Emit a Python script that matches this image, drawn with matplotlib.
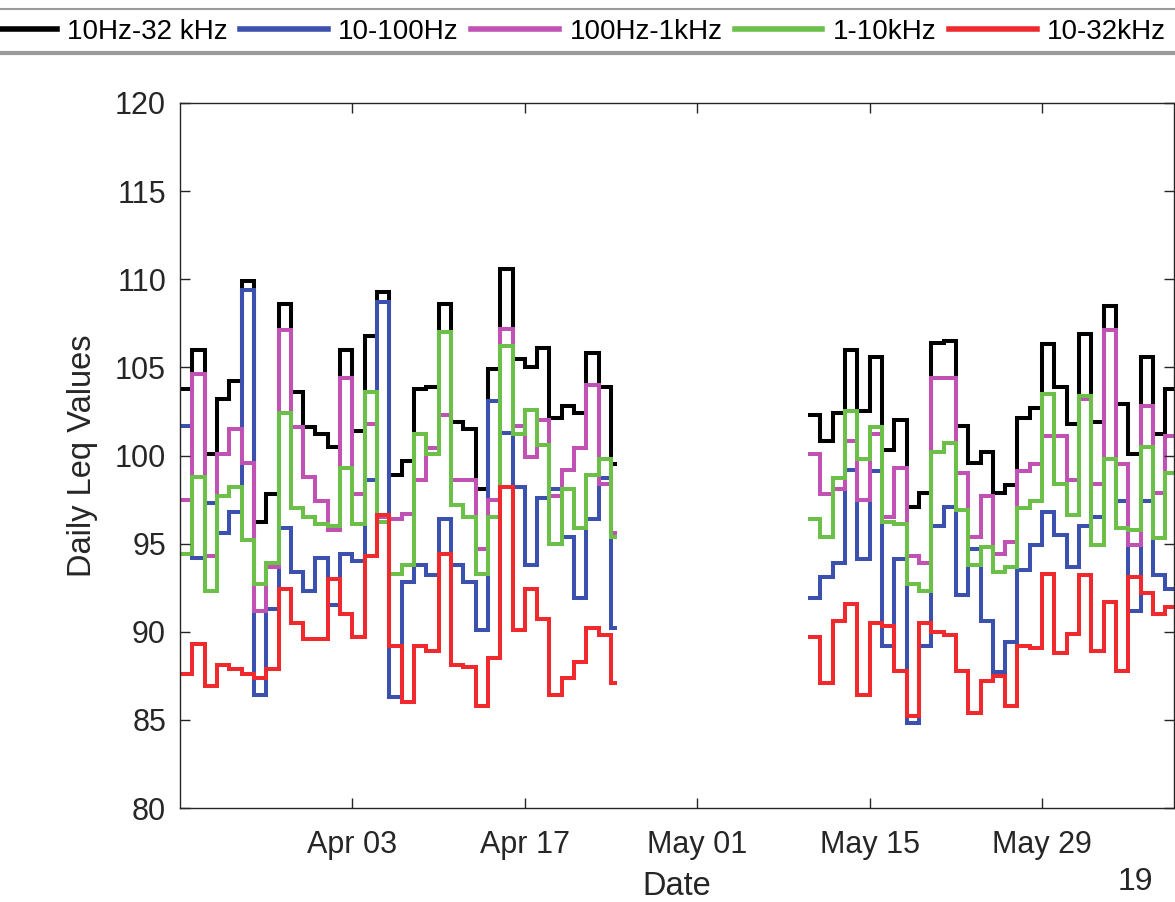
import datetime as dt

import matplotlib
matplotlib.use("Agg")
import matplotlib.pyplot as plt
import matplotlib.dates as mdates
from matplotlib.lines import Line2D
import numpy as np

plt.rcParams['font.family'] = ['Liberation Sans', 'DejaVu Sans']

# record periods (daily values)
start1 = dt.datetime(2019, 3, 20)
end1 = dt.datetime(2019, 4, 24, 12)
start2 = dt.datetime(2019, 5, 10)

series_labels = ['10Hz-32 kHz', '10-100Hz', '100Hz-1kHz', '1-10kHz', '10-32kHz']
series_colors = ['#000000', '#3c50ad', '#c052b3', '#6cc04a', '#ef2a2e']

# period 1 : Mar 20 - Apr 24
broad_1 = [103.75, 106.0, 100.1, 103.2, 104.2, 109.9, 96.2, 97.8, 108.6, 103.6,
           101.6, 101.2, 100.5, 106.0, 101.4, 106.8, 109.3, 98.9, 99.7, 103.8,
           103.9, 108.6, 101.9, 101.5, 98.1, 104.9, 110.6, 105.5, 105.0, 106.1,
           102.1, 102.8, 102.4, 105.8, 103.9, 99.5]
low_1 = [101.7, 94.2, 97.3, 95.6, 96.8, 109.4, 86.4, 91.3, 95.9, 93.4,
         92.3, 94.2, 91.5, 94.4, 94.0, 98.6, 108.7, 86.3, 92.8, 93.8,
         93.2, 96.4, 93.8, 92.8, 90.1, 103.1, 101.3, 98.2, 93.8, 97.6,
         98.1, 95.4, 91.9, 96.4, 98.7, 90.2]
mid_1 = [97.5, 104.6, 94.3, 100.1, 101.5, 99.6, 91.2, 93.7, 107.1, 101.6,
         98.8, 97.4, 95.8, 104.4, 97.8, 101.8, 96.5, 96.4, 96.7, 98.6,
         100.4, 102.3, 98.6, 98.6, 94.7, 97.5, 107.2, 101.7, 99.9, 102.0,
         97.7, 99.2, 100.4, 104.0, 98.4, 95.6]
high_1 = [94.4, 98.8, 92.3, 97.7, 98.2, 95.2, 92.7, 93.9, 102.4, 97.0,
          96.5, 96.1, 96.0, 99.3, 96.1, 103.6, 96.2, 93.3, 93.8, 101.2,
          100.1, 107.0, 97.2, 96.5, 93.3, 96.5, 106.2, 101.2, 102.6, 100.6,
          95.0, 98.1, 95.9, 98.9, 99.8, 95.4]
ultra_1 = [87.6, 89.3, 86.9, 88.1, 87.9, 87.6, 87.4, 87.9, 92.4, 90.5,
           89.6, 89.6, 93.0, 91.0, 89.7, 94.3, 96.6, 89.2, 86.0, 89.2,
           88.9, 94.4, 88.1, 88.0, 85.8, 88.5, 98.2, 90.1, 92.4, 90.7,
           86.4, 87.4, 88.3, 90.2, 89.8, 87.1]

# period 2 : May 10 - Jun 08
broad_2 = [102.3, 100.8, 102.4, 106.0, 102.5, 105.6, 100.3, 102.0, 97.1, 97.9,
           106.4, 106.5, 101.7, 99.6, 100.2, 97.9, 98.3, 102.1, 102.7, 106.3,
           103.9, 101.8, 106.9, 101.9, 108.5, 102.9, 100.1, 105.6, 101.2, 103.8]
low_2 = [91.9, 93.1, 93.9, 99.2, 94.1, 99.1, 89.2, 94.1, 84.8, 89.2,
         96.0, 97.1, 92.1, 94.7, 90.6, 87.7, 89.4, 93.5, 94.9, 96.8,
         95.5, 93.7, 96.0, 96.5, 99.8, 97.4, 91.2, 97.4, 93.2, 92.4]
mid_2 = [100.1, 97.8, 98.1, 100.8, 97.5, 101.2, 96.5, 99.3, 94.3, 93.9,
         104.4, 104.4, 99.0, 95.4, 97.7, 94.4, 95.1, 99.1, 99.5, 101.1,
         101.1, 98.6, 103.2, 98.4, 107.1, 99.5, 94.9, 102.8, 97.9, 101.1]
high_2 = [96.4, 95.4, 98.7, 102.5, 99.8, 101.6, 96.2, 96.1, 92.7, 92.3,
          100.2, 100.7, 96.9, 93.8, 94.8, 93.4, 93.7, 97.0, 97.4, 103.5,
          98.4, 96.6, 103.4, 94.9, 99.8, 95.9, 95.8, 100.5, 95.3, 99.0]
ultra_2 = [89.7, 87.1, 90.6, 91.6, 86.4, 90.5, 90.3, 87.8, 85.2, 90.5,
           90.0, 89.8, 87.8, 85.4, 87.2, 87.5, 85.8, 89.2, 89.1, 93.3,
           88.8, 89.9, 93.2, 88.9, 91.7, 87.8, 93.1, 92.2, 91.0, 91.4]

xticks = [dt.datetime(2019, 4, 3), dt.datetime(2019, 4, 17), dt.datetime(2019, 5, 1),
          dt.datetime(2019, 5, 15), dt.datetime(2019, 5, 29)]
yticks = np.arange(80, 121, 5)


def day_edges(start, n, end=None):
    t0 = mdates.date2num(start)
    edges = t0 + np.arange(n + 1)
    if end is not None:
        edges[-1] = mdates.date2num(end)
    return edges


def main():
    fig = plt.figure(figsize=(11.75, 9.02), dpi=100)
    ax = fig.add_axes([180 / 1175, 1 - 808 / 902, (1174 - 180) / 1175, (808 - 103) / 902])

    period1 = [broad_1, low_1, mid_1, high_1, ultra_1]
    period2 = [broad_2, low_2, mid_2, high_2, ultra_2]
    e1 = day_edges(start1, len(broad_1), end1)
    e2 = day_edges(start2, len(broad_2))

    handles = []
    for v1, v2, col, lab in zip(period1, period2, series_colors, series_labels):
        ax.stairs(v1, e1, baseline=None, color=col, lw=2.9)
        ax.stairs(v2, e2, baseline=None, color=col, lw=2.9)
        handles.append(Line2D([], [], color=col, lw=4))

    ax.set_xlim(mdates.date2num(start1), mdates.date2num(dt.datetime(2019, 6, 8, 17)))
    ax.set_ylim(80, 120)
    ax.set_xticks(xticks)
    ax.xaxis.set_major_formatter(mdates.DateFormatter('%b %d'))
    ax.set_yticks(yticks)
    ax.tick_params(direction='in', length=7, width=1, top=True, right=True,
                   labelsize=22, colors='#262626')
    ax.tick_params(axis='x', pad=16)
    ax.tick_params(axis='y', pad=10)
    for s in ax.spines.values():
        s.set_color('#262626')
        s.set_linewidth(1)

    ax.set_xlabel('Date', fontsize=23.5, color='#262626', labelpad=8)
    ax.set_ylabel('Daily Leq Values', fontsize=23.5, color='#262626', labelpad=12)
    fig.text(1135 / 1175, 1 - 882 / 902, '19', fontsize=23, color='#262626',
             ha='center', va='center')

    # legend strip on top
    fig.legend(handles, series_labels, ncol=5, frameon=False, fontsize=20,
               loc='center left', bbox_to_anchor=(-31 / 1175, 1 - 32 / 902),
               borderpad=0, borderaxespad=0, handlelength=3.15,
               handletextpad=0.38, columnspacing=0.45)
    fig.add_artist(Line2D([0, 1], [1 - 9 / 902] * 2, color='#9a9a9a', lw=1.5))
    fig.add_artist(Line2D([0, 1], [1 - 53 / 902] * 2, color='#9a9a9a', lw=3))

    plt.savefig('out.png', dpi=100)


if __name__ == "__main__":
    main()
